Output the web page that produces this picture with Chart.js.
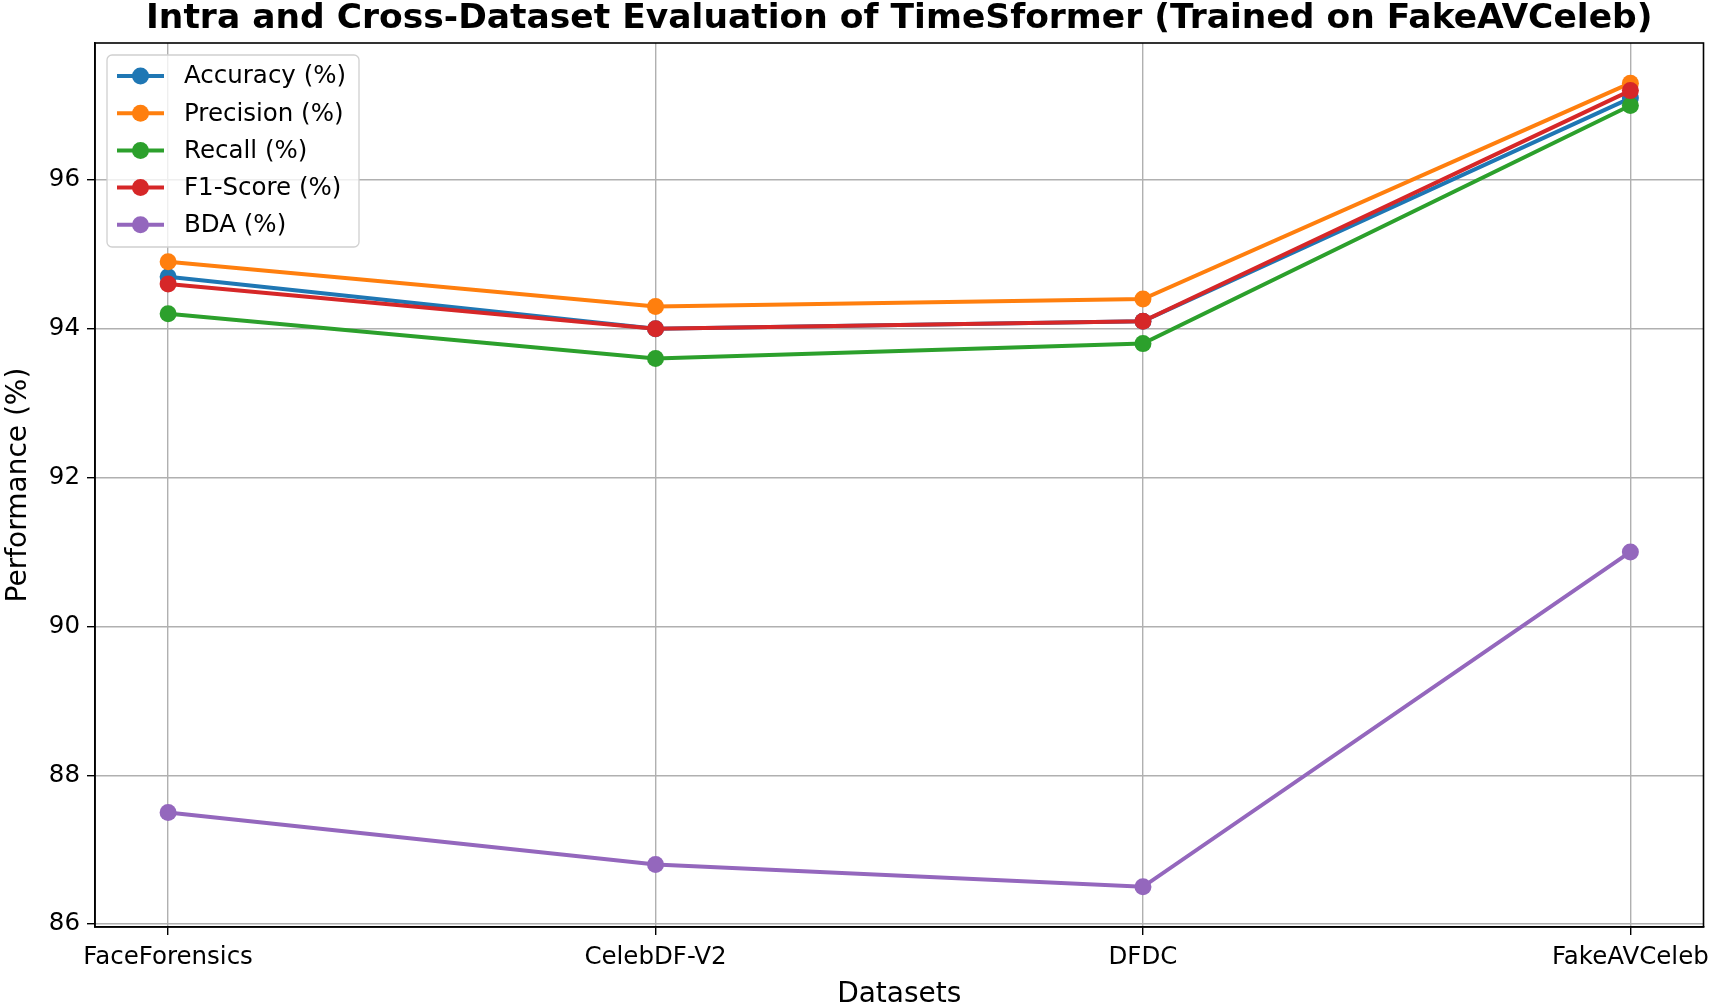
<!DOCTYPE html>
<html>
<head>
<meta charset="utf-8">
<script src="https://cdn.jsdelivr.net/npm/chart.js@4.4.1/dist/chart.umd.min.js"></script>
<style>
  html, body { margin: 0; padding: 0; background: #fff; }
  #wrap { width: 1712px; height: 1007px; }
</style>
</head>
<body>
<div id="wrap"><canvas id="chart"></canvas></div>
<script>
const datasetsNames = ["FaceForensics", "CelebDF-V2", "DFDC", "FakeAVCeleb"];
const accuracy = [94.7, 94.0, 94.1, 97.1];
const precision = [94.9, 94.3, 94.4, 97.3];
const recall = [94.2, 93.6, 93.8, 97.0];
const f1Score = [94.6, 94.0, 94.1, 97.2];
const bda = [87.5, 86.8, 86.5, 91.0];
const yTicks = [86, 88, 90, 92, 94, 96];

const FONT = "'DejaVu Sans', sans-serif";

const series = [
  { label: "Accuracy (%)", values: accuracy, color: "#1f77b4" },
  { label: "Precision (%)", values: precision, color: "#ff7f0e" },
  { label: "Recall (%)", values: recall, color: "#2ca02c" },
  { label: "F1-Score (%)", values: f1Score, color: "#d62728" },
  { label: "BDA (%)", values: bda, color: "#9467bd" },
];

// matplotlib-like frame on all four sides
const framePlugin = {
  id: "frame",
  afterDatasetsDraw(chart) {
    const { ctx, chartArea: a } = chart;
    ctx.save();
    ctx.strokeStyle = "#000";
    ctx.lineWidth = 1.6;
    ctx.strokeRect(a.left, a.top, a.right - a.left, a.bottom - a.top);
    ctx.restore();
  },
};

// legend drawn inside the plot, upper left
const insideLegend = {
  id: "insideLegend",
  afterDraw(chart) {
    const { ctx } = chart;
    const x0 = 107, y0 = 55, w = 252, h = 192, rowH = 37.2;
    ctx.save();
    ctx.beginPath();
    ctx.roundRect(x0, y0, w, h, 5);
    ctx.fillStyle = "rgba(255,255,255,0.8)";
    ctx.fill();
    ctx.strokeStyle = "#d0d0d0";
    ctx.lineWidth = 1.3;
    ctx.stroke();
    ctx.font = "24.5px " + FONT;
    ctx.textBaseline = "middle";
    chart.data.datasets.forEach((ds, i) => {
      const y = 76 + i * rowH;
      ctx.strokeStyle = ds.borderColor;
      ctx.lineWidth = 4;
      ctx.beginPath();
      ctx.moveTo(117, y);
      ctx.lineTo(164, y);
      ctx.stroke();
      ctx.fillStyle = ds.borderColor;
      ctx.beginPath();
      ctx.arc(140.5, y, 8.5, 0, Math.PI * 2);
      ctx.fill();
      ctx.fillStyle = "#000";
      ctx.fillText(ds.label, 184, y + 1);
    });
    ctx.restore();
  },
};

const ctx = document.getElementById("chart").getContext("2d");
new Chart(ctx, {
  type: "line",
  data: {
    datasets: series.map((s, i) => ({
      label: s.label,
      data: s.values.map((v, j) => ({ x: j, y: v })),
      borderColor: s.color,
      backgroundColor: s.color,
      pointBackgroundColor: s.color,
      pointBorderWidth: 0,
      pointRadius: 8.5,
      borderWidth: 4,
      fill: false,
      tension: 0,
      order: series.length - i,
    })),
  },
  options: {
    responsive: true,
    maintainAspectRatio: false,
    devicePixelRatio: 1,
    animation: false,
    layout: { padding: { left: 0, right: 5, top: 0, bottom: 0 } },
    plugins: {
      legend: { display: false },
      tooltip: { enabled: false },
      title: {
        display: true,
        fullSize: false,
        text: "Intra and Cross-Dataset Evaluation of TimeSformer (Trained on FakeAVCeleb)",
        color: "#000",
        font: { family: FONT, size: 34.5, weight: "bold", lineHeight: 1.0 },
        padding: { top: 2, bottom: 6.5 },
      },
    },
    scales: {
      x: {
        type: "linear",
        min: -0.15,
        max: 3.15,
        afterBuildTicks: (ax) => {
          ax.ticks = datasetsNames.map((_, i) => ({ value: i }));
        },
        afterFit: (ax) => {
          ax.height = 80;
          ax.paddingLeft = 0;
          ax.paddingRight = 0;
        },
        ticks: {
          autoSkip: false,
          maxRotation: 0,
          color: "#000",
          padding: 8,
          font: { family: FONT, size: 24.5 },
          callback: (v) => datasetsNames[v],
        },
        grid: {
          color: "#b0b0b0",
          lineWidth: 1.4,
          tickColor: "#000",
          tickLength: 8,
          tickWidth: 1.4,
        },
        border: { display: true, color: "#000", width: 1.6 },
        title: {
          display: true,
          text: "Datasets",
          color: "#000",
          font: { family: FONT, size: 28 },
          padding: { top: 0, bottom: -4.5 },
        },
      },
      y: {
        min: 85.96,
        max: 97.84,
        afterBuildTicks: (ax) => {
          ax.ticks = yTicks.map((v) => ({ value: v }));
        },
        afterFit: (ax) => {
          ax.width = 95;
          ax.paddingTop = 0;
          ax.paddingBottom = 0;
        },
        ticks: {
          color: "#000",
          padding: 7,
          font: { family: FONT, size: 24.5 },
        },
        grid: {
          color: "#b0b0b0",
          lineWidth: 1.4,
          tickColor: "#000",
          tickLength: 8,
          tickWidth: 1.4,
        },
        border: { display: true, color: "#000", width: 1.6 },
        title: {
          display: true,
          text: "Performance (%)",
          color: "#000",
          font: { family: FONT, size: 28 },
          padding: { top: 2, bottom: 0 },
        },
      },
    },
  },
  plugins: [framePlugin, insideLegend],
});
</script>
</body>
</html>
